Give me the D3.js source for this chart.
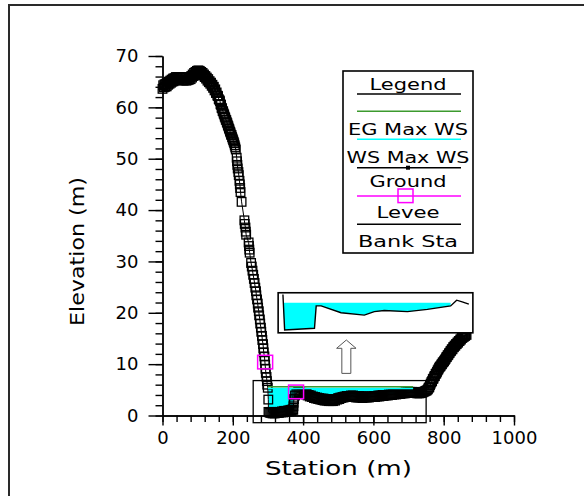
<!DOCTYPE html>
<html>
<head>
<meta charset="utf-8">
<script src="https://cdn.jsdelivr.net/npm/d3@7"></script>
<style>
  body { margin: 0; background: #fff; }
  text { font-family: "DejaVu Sans", sans-serif; fill: #000; }
</style>
</head>
<body>
<div id="chart"></div>
<script>
// ground profile (station m, elevation m), in four pieces
// left terrace
var terraceSta = [
  0, 2, 4, 6, 8, 10, 12, 14, 16, 18, 20, 22, 24, 26, 28, 30, 32, 34, 36, 38,
  40, 42, 44, 46, 48, 50, 52, 54, 56, 58, 60, 62, 64, 66, 68, 70, 72, 74, 76, 78,
  80, 82, 84, 86, 88, 90, 92, 94, 96, 98, 100, 102, 104, 106, 108, 110, 112, 114, 116, 118,
  120, 122, 124, 126, 128, 130, 132, 134, 136, 138, 140, 142, 144, 146, 148, 150, 152, 154, 156, 158,
  160
];
var terraceElev = [
  63.6, 64.3, 63.9, 64.5, 64.0, 64.6, 64.1, 64.8, 64.4, 65.0, 64.6, 65.2, 64.8, 65.4, 65.0, 65.6, 65.1, 65.7, 65.3, 65.9,
  65.4, 65.9, 65.4, 65.9, 65.4, 65.9, 65.3, 65.8, 65.3, 65.8, 65.2, 65.8, 65.3, 65.8, 65.2, 65.7, 65.3, 65.8, 65.4, 65.9,
  65.5, 66.1, 65.8, 66.4, 66.1, 66.7, 66.3, 66.9, 66.6, 67.1, 66.7, 67.2, 66.8, 67.1, 66.7, 66.9, 66.4, 66.7, 66.2, 66.4,
  65.9, 66.1, 65.6, 65.8, 65.2, 65.5, 64.9, 65.1, 64.6, 64.8, 64.2, 64.4, 63.8, 64.0, 63.3, 63.5, 62.8, 62.9, 62.3, 62.2,
  61.6
];

// steep left bank
var bankSta = [
  162, 163.5, 165, 166.5, 168, 169.5, 171, 172.5, 174, 175.5, 177, 178.5, 180, 181.5, 183, 184.5, 186, 187.5, 189, 190.5,
  192, 193.5, 195, 196.5, 198, 199.5, 201, 202.5, 204, 205.5, 207, 208.5, 211, 212, 213, 214, 216, 217, 219, 220,
  221, 222, 225, 233, 234, 236, 237, 238, 245, 246, 247, 248, 252, 254, 256, 258, 260, 262, 264, 266,
  267, 269, 271, 272, 274, 275, 277, 278, 280, 281, 283, 284, 286, 287, 288, 290, 291, 292, 293, 294,
  296, 297, 298, 299.5, 301
];
var bankElev = [
  61.4, 61.2, 60.6, 60.5, 59.9, 59.8, 59.3, 59.2, 58.8, 58.6, 58.2, 58.0, 57.6, 57.5, 57.1, 56.9, 56.5, 56.3, 55.9, 55.7,
  55.3, 55.1, 54.7, 54.6, 54.2, 53.9, 53.6, 53.3, 53.0, 52.6, 52.2, 51.8, 50.2, 49.5, 48.8, 48.1, 47.4, 46.8, 45.7, 45.0,
  44.3, 43.5, 41.6, 38.0, 37.3, 36.6, 35.8, 35.2, 33.7, 33.0, 32.3, 31.7, 29.7, 29.0, 28.2, 27.4, 26.6, 25.8, 24.9, 24.2,
  23.4, 22.6, 21.8, 21.0, 20.3, 19.5, 18.7, 17.9, 17.1, 16.3, 15.5, 14.7, 13.9, 13.1, 12.3, 11.5, 10.7, 9.9, 9.1, 8.3,
  7.5, 6.7, 6.0, 5.4, 3.1
];

// channel
var channelSta = [
  301.5, 304, 307, 310, 313, 316, 319, 322, 325, 328, 331, 334, 337, 340, 343, 346, 349, 352, 355, 358,
  361, 364, 367, 370, 372, 372.5, 373, 374, 377, 381, 386, 389, 392, 395, 398, 401, 404, 407, 410, 413,
  416, 419, 422, 425, 428, 431, 434, 437, 440, 443, 446, 449, 452, 455, 458, 461, 464, 467, 470, 473,
  476, 479, 482, 485, 488, 491, 494, 497, 500, 503, 506, 509, 512, 515, 518, 521, 524, 527, 530, 533,
  536, 539, 542, 545, 548, 551, 554, 557, 560, 563, 566, 569, 572, 575, 578, 581, 584, 587, 590, 593,
  596, 599, 602, 605, 608, 611, 614, 617, 620, 623, 626, 629, 632, 635, 638, 641, 644, 647, 650, 653,
  656, 659, 662, 665, 668, 671, 674, 677, 680, 683, 686, 689, 692, 695, 698, 701, 704, 707, 710, 713,
  716, 719, 722, 725, 728, 731, 734, 737, 740, 743, 746, 749, 752
];
var channelElev = [
  0.7, 0.6, 0.5, 0.7, 0.4, 0.6, 0.4, 0.6, 0.5, 0.7, 0.5, 0.7, 0.6, 0.8, 0.6, 0.9, 0.7, 0.9, 0.8, 1.0,
  0.8, 1.1, 0.9, 1.2, 1.1, 1.8, 2.5, 3.2, 3.9, 4.4, 4.6, 4.4, 4.5, 4.3, 4.4, 4.2, 4.4, 4.1, 4.2, 3.9,
  4.0, 3.7, 3.9, 3.6, 3.7, 3.4, 3.6, 3.3, 3.5, 3.2, 3.4, 3.1, 3.3, 3.0, 3.3, 2.9, 3.2, 2.9, 3.2, 2.8,
  3.1, 2.8, 3.1, 2.8, 3.1, 2.9, 3.2, 3.1, 3.4, 3.2, 3.5, 3.4, 3.6, 3.5, 3.7, 3.6, 3.8, 3.6, 3.8, 3.6,
  3.9, 3.7, 3.9, 3.6, 3.8, 3.5, 3.8, 3.5, 3.8, 3.5, 3.7, 3.4, 3.7, 3.5, 3.7, 3.5, 3.7, 3.5, 3.7, 3.6,
  3.7, 3.6, 3.8, 3.6, 3.8, 3.7, 3.9, 3.7, 3.9, 3.8, 4.0, 3.8, 4.0, 3.9, 4.0, 3.9, 4.1, 4.0, 4.1, 4.0,
  4.2, 4.1, 4.2, 4.1, 4.3, 4.2, 4.3, 4.2, 4.4, 4.3, 4.4, 4.3, 4.5, 4.4, 4.5, 4.4, 4.6, 4.5, 4.6, 4.5,
  4.6, 4.4, 4.5, 4.3, 4.4, 4.3, 4.4, 4.4, 4.5, 4.6, 4.7, 4.8, 4.9
];

// right bank
var rightSta = [
  755, 757, 759, 761, 763, 765, 767, 769, 771, 773, 775, 777, 779, 781, 783, 785, 787, 789, 791, 793,
  795, 797, 799, 801, 803, 805, 807, 809, 811, 813, 815, 817, 819, 821, 823, 825, 827, 829, 831, 833,
  835, 837, 839, 841, 843, 845, 847, 849, 851, 853, 855, 857, 859, 861, 863, 865
];
var rightElev = [
  5.1, 5.4, 5.5, 5.9, 6.2, 6.5, 6.7, 7.1, 7.2, 7.6, 7.7, 8.1, 8.2, 8.5, 8.8, 9.0, 9.3, 9.5, 9.6, 9.9,
  10.0, 10.3, 10.4, 10.6, 10.8, 11.0, 11.3, 11.4, 11.7, 11.8, 12.1, 12.2, 12.5, 12.6, 12.9, 12.9, 13.3, 13.3, 13.6, 13.6,
  13.9, 13.9, 14.2, 14.2, 14.5, 14.5, 14.8, 14.8, 15.1, 15.1, 15.4, 15.3, 15.6, 15.5, 15.8, 15.7
];

// levees, water surface and energy grade
var leveeSta = [292, 380];
var leveeElev = [10.4, 4.6];
var wsSta = [300, 713];
var wsElev = 5.25;
var egElev = 5.6;

// zoom window and the magnified inset
var zoomSta = [258, 750];
var zoomElev = [-1.4, 6.8];
var insetBoxSta = [329, 883];
var insetBoxElev = [16.1, 23.9];
var insetSta = [291.8, 296, 369.6, 373.8, 386, 435, 492.4, 517, 541.5, 598.7, 647.8, 705.2, 720, 733.7, 750];
var insetElev = [6.7, 0.5, 0.8, 4.7, 4.7, 3.5, 3.1, 3.7, 3.9, 3.7, 4.1, 4.7, 5.7, 5.4, 5.0];
var insetWsSta = [291.8, 705.2];
var arrowSta = 523;
var arrowElev = [8.2, 14.7];

// ticks and labels
var xMajor = [0, 200, 400, 600, 800, 1000];
var xMinor = d3.range(0, 1001, 40);
var yMajor = [0, 10, 20, 30, 40, 50, 60, 70];
var yMinor = d3.range(0, 71, 2);
var legendLabels = ["Legend", "EG Max WS", "WS Max WS", "Ground", "Levee", "Bank Sta"];

function pairs(sta, elev) {
  return sta.map(function (s, i) { return {sta: s, elev: elev[i]}; });
}
var ground = pairs(terraceSta, terraceElev)
  .concat(pairs(bankSta, bankElev))
  .concat(pairs(channelSta, channelElev))
  .concat(pairs(rightSta, rightElev));
var inset = pairs(insetSta, insetElev);

var margin = {top: 56, left: 162.5},
    width = 351.5,
    height = 359.5;

var svg = d3.select("#chart").append("svg")
    .attr("width", 584)
    .attr("height", 496);

// outer frame (right and bottom edges are off the page)
svg.append("rect")
    .attr("x", 9).attr("y", 5)
    .attr("width", 620).attr("height", 620)
    .attr("fill", "none")
    .attr("stroke", "#2a2a2a")
    .attr("stroke-width", 2);

var chart = svg.append("g")
    .attr("transform", "translate(" + margin.left + "," + margin.top + ")");

var x = d3.scaleLinear().domain([0, 1000]).range([0, width]);
var y = d3.scaleLinear().domain([0, 70]).range([height, 0]);

// water between ground and water surface
var wet = ground.filter(function (d) { return d.sta >= wsSta[0] && d.sta <= wsSta[1]; });
chart.append("path")
    .datum(wet)
    .attr("fill", "#00ffff")
    .attr("d", d3.area()
      .x(function (d) { return x(d.sta); })
      .y0(function (d) { return y(Math.min(d.elev, wsElev)); })
      .y1(y(wsElev)));

// ground line and hollow square markers
chart.append("path")
    .datum(ground)
    .attr("fill", "none")
    .attr("stroke", "#000")
    .attr("stroke-width", 1)
    .attr("d", d3.line()
      .x(function (d) { return x(d.sta); })
      .y(function (d) { return y(d.elev); }));

chart.selectAll(".pt")
    .data(ground)
  .enter().append("rect")
    .attr("class", "pt")
    .attr("x", function (d) { return x(d.sta) - 4.3; })
    .attr("y", function (d) { return y(d.elev) - 4.3; })
    .attr("width", 8.6).attr("height", 8.6)
    .attr("fill", "none")
    .attr("stroke", "#000")
    .attr("stroke-width", 1.3);

// water surface and energy grade lines
chart.append("line")
    .attr("x1", x(wsSta[0])).attr("x2", x(wsSta[1]))
    .attr("y1", y(wsElev)).attr("y2", y(wsElev))
    .attr("stroke", "#00ffff").attr("stroke-width", 1.5);
chart.append("line")
    .attr("x1", x(wsSta[0])).attr("x2", x(wsSta[1]))
    .attr("y1", y(egElev)).attr("y2", y(egElev))
    .attr("stroke", "#3c9a2e").attr("stroke-width", 1.5);

// levee squares
chart.selectAll(".levee")
    .data(leveeSta)
  .enter().append("rect")
    .attr("class", "levee")
    .attr("x", function (d) { return x(d) - 7.5; })
    .attr("y", function (d, i) { return y(leveeElev[i]) - 6.8; })
    .attr("width", 15).attr("height", 13.6)
    .attr("fill", "none")
    .attr("stroke", "#ff00ff")
    .attr("stroke-width", 1.5);

// zoom window
chart.append("rect")
    .attr("x", x(zoomSta[0])).attr("y", y(zoomElev[1]))
    .attr("width", x(zoomSta[1]) - x(zoomSta[0]))
    .attr("height", y(zoomElev[0]) - y(zoomElev[1]))
    .attr("fill", "none")
    .attr("stroke", "#000")
    .attr("stroke-width", 1.3);

// arrow from window to inset
var ax = x(arrowSta), at = y(arrowElev[1]), ab = y(arrowElev[0]);
chart.append("path")
    .attr("d", "M" + ax + "," + at +
      "L" + (ax + 9.7) + "," + (at + 8.3) +
      "L" + (ax + 4.5) + "," + (at + 8.3) +
      "L" + (ax + 4.5) + "," + ab +
      "L" + (ax - 4.5) + "," + ab +
      "L" + (ax - 4.5) + "," + (at + 8.3) +
      "L" + (ax - 9.7) + "," + (at + 8.3) + "Z")
    .attr("fill", "#fff")
    .attr("stroke", "#555")
    .attr("stroke-width", 1);

// inset with the magnified channel
var ix0 = x(insetBoxSta[0]), ix1 = x(insetBoxSta[1]),
    iy0 = y(insetBoxElev[1]), iy1 = y(insetBoxElev[0]);
chart.append("rect")
    .attr("x", ix0).attr("y", iy0)
    .attr("width", ix1 - ix0).attr("height", iy1 - iy0)
    .attr("fill", "#fff")
    .attr("stroke", "#000")
    .attr("stroke-width", 1.6);

var ix = d3.scaleLinear().domain([280, 760]).range([ix0, ix1]);
var iy = d3.scaleLinear().domain([0, 7]).range([iy1, iy0]);

var insetWet = inset.filter(function (d) { return d.sta >= insetWsSta[0] && d.sta <= insetWsSta[1]; });
chart.append("path")
    .datum(insetWet)
    .attr("fill", "#00ffff")
    .attr("d", d3.area()
      .x(function (d) { return ix(d.sta); })
      .y0(function (d) { return iy(Math.min(d.elev, wsElev)); })
      .y1(iy(wsElev)));

chart.append("path")
    .datum(inset)
    .attr("fill", "none")
    .attr("stroke", "#000")
    .attr("stroke-width", 1.4)
    .attr("d", d3.line()
      .x(function (d) { return ix(d.sta); })
      .y(function (d) { return iy(d.elev); }));

// axes: minor ticks first, then major ticks with labels
function styleAxis(g) {
  g.selectAll("path, line").attr("stroke", "#000").attr("stroke-width", 1.4);
  g.selectAll("text").attr("font-family", "DejaVu Sans, sans-serif").attr("font-size", 18).attr("fill", "#000");
}

chart.append("g")
    .attr("transform", "translate(0," + height + ")")
    .call(d3.axisBottom(x).tickValues(xMinor).tickSize(6.5).tickSizeOuter(0).tickFormat(""))
    .call(styleAxis);
chart.append("g")
    .attr("transform", "translate(0," + height + ")")
    .call(d3.axisBottom(x).tickValues(xMajor).tickSize(10).tickSizeOuter(0).tickPadding(6).tickFormat(d3.format("d")))
    .call(styleAxis);

chart.append("g")
    .call(d3.axisLeft(y).tickValues(yMinor).tickSize(7).tickSizeOuter(0).tickFormat(""))
    .call(styleAxis);
chart.append("g")
    .call(d3.axisLeft(y).tickValues(yMajor).tickSize(14).tickSizeOuter(0).tickPadding(10))
    .call(styleAxis);

// axis titles
svg.append("text")
    .attr("x", 338.5).attr("y", 475)
    .attr("text-anchor", "middle")
    .attr("font-size", 20)
    .attr("textLength", 147).attr("lengthAdjust", "spacingAndGlyphs")
    .text("Station (m)");

svg.append("text")
    .attr("transform", "translate(84,251.5) rotate(-90)")
    .attr("text-anchor", "middle")
    .attr("font-size", 20)
    .attr("textLength", 149).attr("lengthAdjust", "spacingAndGlyphs")
    .text("Elevation (m)");

// legend
var legend = svg.append("g");
legend.append("rect")
    .attr("x", 343).attr("y", 71)
    .attr("width", 130).attr("height", 182)
    .attr("fill", "#fff")
    .attr("stroke", "#000")
    .attr("stroke-width", 1.6);

var legendText = [89.5, 135, 163, 187, 218, 246.5];
var legendWidth = [77, 120, 123, 77, 63, 100];
legend.selectAll(".lt")
    .data(legendLabels)
  .enter().append("text")
    .attr("class", "lt")
    .attr("x", 408)
    .attr("y", function (d, i) { return legendText[i]; })
    .attr("text-anchor", "middle")
    .attr("font-size", 15)
    .attr("textLength", function (d, i) { return legendWidth[i]; })
    .attr("lengthAdjust", "spacingAndGlyphs")
    .text(function (d) { return d; });

var legendLineY = [94, 111.3, 139.3, 167.7, 196, 224.3];
var legendLineC = ["#000", "#3c9a2e", "#00ffff", "#000", "#ff00ff", "#000"];
legend.selectAll(".ll")
    .data(legendLineY)
  .enter().append("line")
    .attr("class", "ll")
    .attr("x1", 357).attr("x2", 461)
    .attr("y1", function (d) { return d; })
    .attr("y2", function (d) { return d; })
    .attr("stroke", function (d, i) { return legendLineC[i]; })
    .attr("stroke-width", 1.5);

legend.append("rect")
    .attr("x", 406).attr("y", 165.7)
    .attr("width", 4).attr("height", 4)
    .attr("fill", "#000");
legend.append("rect")
    .attr("x", 398).attr("y", 189)
    .attr("width", 15).attr("height", 13.6)
    .attr("fill", "none")
    .attr("stroke", "#ff00ff")
    .attr("stroke-width", 1.5);
</script>
</body>
</html>
